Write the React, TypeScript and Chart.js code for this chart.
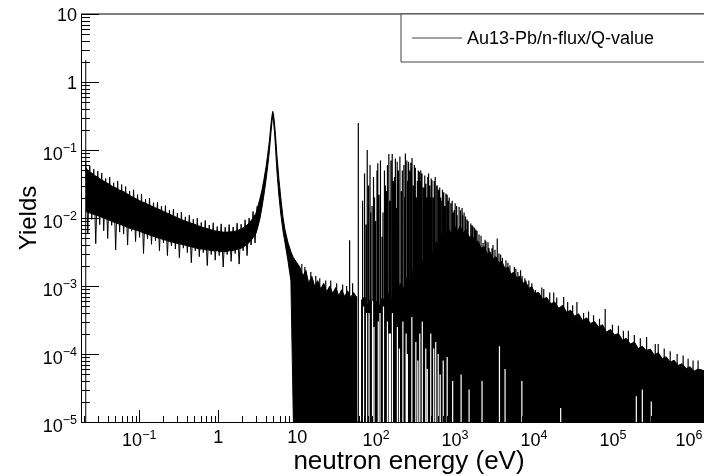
import React, { useEffect, useRef } from 'react';
import { Chart, registerables } from 'chart.js';

Chart.register(...registerables);

const SERIES_LABEL = 'Au13-Pb/n-flux/Q-value';
const X_TITLE = 'neutron energy (eV)';
const Y_TITLE = 'Yields';

const X_MIN = 0.01829;
const X_MAX = 1.423e6;
const Y_MIN = 1e-5;
const Y_MAX = 10;

const xTickDecades = [0.01, 0.1, 1, 10, 100, 1e3, 1e4, 1e5, 1e6];
const xLabelValues = [0.1, 1, 10, 100, 1e3, 1e4, 1e5, 1e6];
const xTickLabels = ['10^{\u22121}', '1', '10', '10^{2}', '10^{3}', '10^{4}', '10^{5}', '10^{6}'];
const yTickDecades = [1e-5, 1e-4, 1e-3, 1e-2, 1e-1, 1, 10];
const yTickLabels = ['10^{\u22125}', '10^{\u22124}', '10^{\u22123}', '10^{\u22122}', '10^{\u22121}', '1', '10'];

// thermal band + 4.9 eV resonance: dense core (energy, upper edge, lower edge)
const bandE = [
  0.0210, 0.0230, 0.0250, 0.0273, 0.0298, 0.0325, 0.0355, 0.0387, 0.0422, 0.0461,
  0.0503, 0.0548, 0.0598, 0.0653, 0.0712, 0.0777, 0.0848, 0.0925, 0.101, 0.110,
  0.120, 0.131, 0.143, 0.156, 0.170, 0.186, 0.203, 0.221, 0.241, 0.263,
  0.287, 0.313, 0.342, 0.373, 0.407, 0.444, 0.484, 0.528, 0.576, 0.628,
  0.686, 0.748, 0.816, 0.890, 0.971, 1.06, 1.16, 1.26, 1.38, 1.50,
  1.64, 1.79, 1.95, 2.13, 2.32, 2.53, 2.76, 3.02, 3.19, 3.39,
  3.59, 3.80, 4.03, 4.27, 4.46, 4.66, 4.80, 4.90, 5.01, 5.16,
  5.31, 5.55, 5.88, 6.23, 6.60, 7.00, 7.63, 8.33, 8.96, 9.63,
];
const bandHigh = [
  0.055, 0.048, 0.046, 0.042, 0.040, 0.037, 0.035, 0.033, 0.031, 0.029,
  0.028, 0.026, 0.025, 0.024, 0.0225, 0.021, 0.020, 0.019, 0.018, 0.0172,
  0.0165, 0.0157, 0.0150, 0.0143, 0.0137, 0.0131, 0.0125, 0.0119, 0.0114, 0.0109,
  0.0104, 0.0099, 0.0095, 0.0091, 0.0088, 0.0085, 0.0082, 0.0079, 0.0076, 0.0073,
  0.0071, 0.0069, 0.0067, 0.0065, 0.0064, 0.0063, 0.0062, 0.0062, 0.0062, 0.0063,
  0.0064, 0.0066, 0.0069, 0.0073, 0.0079, 0.0087, 0.0100, 0.0118, 0.0150, 0.0195,
  0.0260, 0.0370, 0.056, 0.092, 0.140, 0.24, 0.32, 0.37, 0.34, 0.25,
  0.17, 0.082, 0.037, 0.019, 0.0105, 0.0068, 0.0044, 0.0032, 0.0026, 0.0023,
];
const bandLow = [
  0.0125, 0.0120, 0.0116, 0.0112, 0.0108, 0.0104, 0.0100, 0.0096, 0.0092, 0.0088,
  0.0085, 0.0082, 0.0079, 0.0076, 0.0073, 0.0070, 0.0068, 0.0066, 0.0064, 0.0061,
  0.0059, 0.0057, 0.0055, 0.0053, 0.0051, 0.0050, 0.0048, 0.0047, 0.0045, 0.0044,
  0.0043, 0.0042, 0.0041, 0.0040, 0.0039, 0.0038, 0.0037, 0.0036, 0.0035, 0.0035,
  0.0034, 0.0034, 0.0033, 0.0033, 0.0033, 0.0032, 0.0032, 0.0032, 0.0033, 0.0033,
  0.0034, 0.0035, 0.0036, 0.0038, 0.0041, 0.0045, 0.0051, 0.0060, 0.0075, 0.0100,
  0.0145, 0.0220, 0.036, 0.062, 0.100, 0.18, 0.26, 0.31, 0.27, 0.19,
  0.112, 0.048, 0.021, 0.011, 0.0066, 0.0044, 0.0024, 0.0012, 0.00001, 0.00001,
];

// bin-to-bin fluctuations of the thermal band (energy, alternating max / min bin content)
const noiseE = [
  0.02103, 0.02229, 0.02362, 0.02503, 0.02653, 0.02812, 0.02980, 0.03158, 0.03347, 0.03547,
  0.03759, 0.03984, 0.04222, 0.04475, 0.04742, 0.05026, 0.05326, 0.05645, 0.05982, 0.06340,
  0.06719, 0.07121, 0.07547, 0.07998, 0.08476, 0.08983, 0.09520, 0.1009, 0.1069, 0.1133,
  0.1201, 0.1273, 0.1349, 0.1429, 0.1515, 0.1605, 0.1701, 0.1803, 0.1911, 0.2025,
  0.2146, 0.2275, 0.2411, 0.2555, 0.2708, 0.2869, 0.3041, 0.3223, 0.3416, 0.3620,
  0.3836, 0.4066, 0.4309, 0.4567, 0.4840, 0.5129, 0.5436, 0.5761, 0.6105, 0.6470,
  0.6857, 0.7267, 0.7702, 0.8162, 0.8650, 0.9168, 0.9716, 1.030, 1.091, 1.157,
  1.226, 1.299, 1.377, 1.459, 1.546, 1.639, 1.737, 1.841, 1.951, 2.067,
  2.191, 2.322, 2.461, 2.608, 2.764, 2.929, 3.104,
];
const noiseY = [
  0.068, 0.0060, 0.058, 0.0095, 0.052, 0.0042, 0.049, 0.0080, 0.046, 0.0065,
  0.038, 0.0050, 0.040, 0.0078, 0.033, 0.0034, 0.035, 0.0062, 0.031, 0.0058,
  0.029, 0.0040, 0.025, 0.0064, 0.026, 0.0045, 0.022, 0.0052, 0.0225, 0.0030,
  0.019, 0.0049, 0.0195, 0.0041, 0.0168, 0.0046, 0.0172, 0.0033, 0.0150, 0.0043,
  0.0152, 0.0028, 0.0130, 0.0039, 0.0135, 0.0035, 0.0118, 0.0026, 0.0122, 0.0036,
  0.0104, 0.0031, 0.0110, 0.0022, 0.0096, 0.0033, 0.0099, 0.0027, 0.0086, 0.0031,
  0.0092, 0.0020, 0.0079, 0.0029, 0.0085, 0.0024, 0.0075, 0.0028, 0.0082, 0.0019,
  0.0073, 0.0029, 0.0080, 0.0023, 0.0074, 0.0030, 0.0084, 0.0021, 0.0081, 0.0033,
  0.0094, 0.0028, 0.0100, 0.0040, 0.0125, 0.0043, 0.0150,
];

// epithermal / fast region, filled down to the axis (energy, upper edge)
const tailE = [
  8.96, 9.63, 10.8, 11.8, 12.9, 14.0, 15.3, 16.7, 18.2, 19.9,
  21.7, 23.7, 25.9, 28.2, 30.8, 33.6, 36.6, 40.0, 43.6, 47.6,
  51.9, 55.8, 56.6, 64.5, 65.5, 71.4, 77.9, 85.0, 92.7, 101,
  110, 120, 131, 143, 156, 171, 186, 203, 222, 242,
  264, 288, 314, 342, 374, 408, 445, 485, 529, 578,
  630, 688, 750, 818, 893, 974, 1063, 1159, 1265, 1380,
  1506, 1643, 1792, 1956, 2133, 2328, 2540, 2771, 3023, 3298,
  3598, 3926, 4283, 4673, 5097, 5562, 6067, 6620, 7222, 7880,
  8597, 9380, 10230, 11490, 12910, 14500, 16290, 18290, 20540, 23080,
  25920, 29110, 32700, 36720, 41250, 46330, 52040, 58440, 65620, 73710,
  82780, 92990, 104400, 117300, 131800, 147900, 166200, 186600, 209600, 235500,
  264400, 297100, 333600, 374600, 420900, 472600, 530900, 596200, 669500, 752100,
  844600, 948900, 1066000, 1197000, 1423000,
];
const tailHigh = [
  0.0026, 0.0023, 0.0019, 0.0014, 0.0017, 0.0011, 0.0014, 0.00098, 0.0012, 0.00090,
  0.0011, 0.00082, 0.0010, 0.00078, 0.00095, 0.00072, 0.00088, 0.00070, 0.00085, 0.00068,
  0.00080, 0.00070, 0.00001, 0.00001, 0.00062, 0.00070, 0.00052, 0.00065, 0.00048, 0.00060,
  0.00050, 0.00068, 0.00055, 0.00078, 0.00062, 0.00090, 0.00075, 0.0011, 0.00090, 0.0013,
  0.0011, 0.0017, 0.0014, 0.0022, 0.0018, 0.0028, 0.0023, 0.0035, 0.0029, 0.0045,
  0.0037, 0.0060, 0.0048, 0.0072, 0.0058, 0.0080, 0.0062, 0.0076, 0.0060, 0.0068,
  0.0052, 0.0056, 0.0043, 0.0046, 0.0036, 0.0038, 0.0030, 0.0032, 0.0025, 0.0027,
  0.0022, 0.0023, 0.0018, 0.0019, 0.0015, 0.0016, 0.0013, 0.0014, 0.0011, 0.00115,
  0.00092, 0.00098, 0.00078, 0.00080, 0.00064, 0.00068, 0.00055, 0.00058, 0.00047, 0.00052,
  0.00041, 0.00044, 0.00036, 0.00039, 0.00031, 0.00034, 0.00028, 0.00030, 0.00025, 0.00027,
  0.00021, 0.00023, 0.00019, 0.00020, 0.00016, 0.00017, 0.00014, 0.00015, 0.00012, 0.00013,
  0.000112, 0.000118, 0.000097, 0.000104, 0.000086, 0.000091, 0.000076, 0.000081, 0.000068, 0.000072,
  0.000061, 0.000065, 0.000056, 0.000060, 0.000057,
];

// resonance spikes (energy, peak height)
const spikeE = [
  46.2, 59.5, 77.2, 85.0, 95.5, 105, 119, 131, 145, 160,
  171, 185, 215, 235, 258, 272, 285, 314, 333, 353,
  381, 408, 428, 462, 485, 510, 561, 595, 618, 658,
  693, 766, 818, 885, 946, 1003, 1063, 1126, 1229, 1302,
  1421, 1582, 1691, 1829, 2013, 2262, 2467, 2691, 3023, 3425,
  3780, 4160, 4673, 5292, 5893, 6755, 7076, 7880, 8597, 10440,
  13290, 17770, 23760, 34950, 42460, 56760, 79700, 117300, 156800, 266800,
  374600, 530900, 774300, 1035000,
  67.4, 71.4, 74.6, 80.2, 83.8, 88.8, 92.7, 98.3, 102.6, 108.8,
  113.6, 122.2, 127.6, 135.3, 139.2, 149.7, 154.1, 165.8, 175.6, 180.8,
  191.6, 200.1, 209.0, 224.8, 228.1, 245.2, 252.5, 267.6, 275.4, 296.2,
  305.0, 323.2, 342.4, 362.8, 368.1, 396.0, 413.6, 438.3, 451.2, 478.2,
  499.5, 529.4, 545.0, 586.1, 639.2, 667.7, 718.1, 739.3, 794.9, 842.4,
  919.2, 974.1, 1047, 1176, 1247, 1360, 1463, 1643, 1767, 1899,
  2133, 2396, 2614, 2937, 3203, 3598, 3984, 4410, 4951, 5643,
  6247, 7654, 9380,
  11.46, 12.51, 14.88, 17.21, 19.33, 23.01, 26.61, 31.67, 37.70, 42.34,
  50.40, 12540, 15820, 19385, 26680, 30850, 49090, 67540, 98540, 135600,
  186600, 222200, 343400, 446000, 650600, 895300, 1197000,
];
const spikeY = [
  0.0047, 0.25, 0.10, 0.012, 0.020, 0.064, 0.0053, 0.030, 0.087, 0.087,
  0.040, 0.067, 0.050, 0.089, 0.067, 0.030, 0.076, 0.055, 0.035, 0.048,
  0.045, 0.028, 0.032, 0.045, 0.020, 0.036, 0.040, 0.030, 0.026, 0.020,
  0.026, 0.023, 0.018, 0.0165, 0.012, 0.0165, 0.011, 0.0145, 0.014, 0.012,
  0.0095, 0.0083, 0.0075, 0.0067, 0.0057, 0.0043, 0.0045, 0.0036, 0.0040, 0.0050,
  0.0029, 0.0019, 0.0022, 0.0015, 0.0018, 0.0017, 0.0014, 0.0012, 0.0012, 0.00087,
  0.0009, 0.0008, 0.00069, 0.00058, 0.0004, 0.00037, 0.00046, 0.00026, 0.00022, 0.000178,
  0.00014, 0.00011, 0.000095, 0.00008,
  0.018, 0.045, 0.008, 0.030, 0.060, 0.015, 0.040, 0.009, 0.050, 0.022,
  0.070, 0.012, 0.050, 0.025, 0.060, 0.018, 0.070, 0.035, 0.075, 0.014,
  0.050, 0.080, 0.025, 0.060, 0.020, 0.070, 0.035, 0.050, 0.065, 0.030,
  0.060, 0.020, 0.050, 0.035, 0.050, 0.028, 0.042, 0.020, 0.040, 0.030,
  0.038, 0.020, 0.035, 0.030, 0.028, 0.018, 0.024, 0.015, 0.022, 0.020,
  0.018, 0.013, 0.015, 0.013, 0.011, 0.0105, 0.009, 0.0078, 0.0072, 0.0065,
  0.0055, 0.0048, 0.0044, 0.0036, 0.0034, 0.0030, 0.0026, 0.0024, 0.0020, 0.0019,
  0.0016, 0.0013, 0.0011,
  0.0021, 0.0019, 0.0016, 0.0014, 0.0013, 0.0012, 0.0012, 0.0011, 0.00105, 0.0010,
  0.0011, 0.00095, 0.0008, 0.00068, 0.00058, 0.00052, 0.00042, 0.00033, 0.00027, 0.00022,
  0.00019, 0.00017, 0.00014, 0.00012, 0.0001, 0.000085, 0.00008,
];

// empty bins (white gaps) inside the dense region (energy, height of gap)
const gapE = [
  81.4, 94.1, 112, 139.2, 151.9, 197.2, 248.9, 337.6, 444.7, 537.1,
  648.6, 794.9, 932.6, 1193, 1506, 2196, 3651, 4300, 7016, 21770,
  197800, 235500, 305800,
  69.36, 75.68, 90.08, 106.6, 124.0, 146.7, 161.0, 186.1, 218.4, 240.3,
  283.6, 318.6, 357.6, 384.7, 425.9, 492.3, 569.2, 612.0, 707.9,
];
const gapY = [
  0.0004, 0.00025, 0.0004, 0.0003, 0.0002, 0.00012, 0.0001, 0.00008, 0.00006, 0.00012,
  0.00005, 0.00009, 0.00004, 0.00005, 0.00003, 0.00004, 0.00013, 0.00006, 0.00004, 0.000016,
  0.000024, 0.00003, 0.00002,
  0.0005, 0.0004, 0.0006, 0.0003, 0.0005, 0.0002, 0.0004, 0.00025, 0.0003, 0.0002,
  0.00035, 0.00015, 0.0002, 0.0003, 0.00012, 0.0002, 0.00015, 0.0001, 0.00008,
];

// left edge of the first bin
const firstEdgeE = [0.0210];
const firstEdgeY = [2.1];

const FONT = "'Liberation Sans', Arial, Helvetica, sans-serif";

function segments(es: number[], ys: number[]) {
  const out: any[] = [];
  es.forEach((e, i) => {
    out.push({ x: e, y: Y_MIN });
    out.push({ x: e, y: ys[i] });
    out.push({ x: e, y: null });
  });
  return out;
}

function decadeTicks(decades: number[], lo: number, hi: number) {
  const t: any[] = [];
  decades.forEach((d) => {
    for (let m = 1; m <= 9; m++) {
      const v = d * m;
      if (v >= lo * 0.9999 && v <= hi * 1.0001) t.push({ value: v, major: m === 1 });
    }
  });
  return t;
}

function drawPowLabel(ctx: CanvasRenderingContext2D, label: string, x: number, baseY: number, align: string, size: number, expSize: number, raise: number) {
  const m = label.match(/^(\d+)\^\{(.+)\}$/);
  const base = m ? m[1] : label;
  const exp = m ? m[2] : '';
  ctx.font = `${size}px ${FONT}`;
  const wb = ctx.measureText(base).width;
  ctx.font = `${expSize}px ${FONT}`;
  const we = exp ? ctx.measureText(exp).width : 0;
  const total = wb + we;
  const left = align === 'center' ? x - total / 2 : x - total;
  ctx.textAlign = 'left';
  ctx.textBaseline = 'alphabetic';
  ctx.font = `${size}px ${FONT}`;
  ctx.fillText(base, left, baseY + (exp ? 3 : 0));
  if (exp) {
    ctx.font = `${expSize}px ${FONT}`;
    ctx.fillText(exp, left + wb, baseY + 3 - raise);
  }
}

const rootStyle = {
  id: 'rootStyle',
  afterDatasetsDraw(chart: any) {
    const { ctx, chartArea: a, scales } = chart;
    const xs = scales.x;
    const ys = scales.y;
    ctx.save();
    ctx.strokeStyle = '#000';
    ctx.fillStyle = '#000';
    ctx.lineWidth = 1;
    ctx.beginPath();
    ys.ticks.forEach((t: any) => {
      const y = Math.round(ys.getPixelForValue(t.value)) + 0.5;
      const len = t.major ? 18 : 9;
      ctx.moveTo(a.left, y);
      ctx.lineTo(a.left + len, y);
    });
    xs.ticks.forEach((t: any) => {
      const x = Math.round(xs.getPixelForValue(t.value)) + 0.5;
      const len = t.major ? 12 : 6;
      ctx.moveTo(x, a.bottom);
      ctx.lineTo(x, a.bottom - len);
    });
    ctx.stroke();
    ctx.beginPath();
    ctx.moveTo(a.left + 0.5, a.top);
    ctx.lineTo(a.left + 0.5, a.bottom + 0.5);
    ctx.lineTo(a.right + 2, a.bottom + 0.5);
    ctx.moveTo(a.left, a.top);
    ctx.lineTo(a.right + 2, a.top);
    ctx.stroke();
    yTickDecades.forEach((v, i) => {
      const y = ys.getPixelForValue(v);
      drawPowLabel(ctx, yTickLabels[i], 77, y + 6.5, 'right', 18, 12.5, 7.5);
    });
    xLabelValues.forEach((v, i) => {
      const x = Math.min(xs.getPixelForValue(v), 689);
      drawPowLabel(ctx, xTickLabels[i], x, 443, 'center', 18, 12.5, 7.5);
    });
    ctx.textAlign = 'center';
    ctx.textBaseline = 'alphabetic';
    ctx.font = `26px ${FONT}`;
    ctx.fillText(X_TITLE, 409, 469);
    ctx.font = `24px ${FONT}`;
    ctx.save();
    ctx.translate(36, 218);
    ctx.rotate(-Math.PI / 2);
    ctx.fillText(Y_TITLE, 0, 0);
    ctx.restore();
    const label = chart.data.datasets[0].label;
    ctx.fillStyle = '#fff';
    ctx.fillRect(401, 14, a.right - 401 + 2, 48);
    ctx.strokeStyle = '#444';
    ctx.beginPath();
    ctx.moveTo(401, 14);
    ctx.lineTo(401, 62);
    ctx.lineTo(a.right + 2, 62);
    ctx.moveTo(401, 14);
    ctx.lineTo(a.right + 2, 14);
    ctx.stroke();
    ctx.beginPath();
    ctx.moveTo(412, 38);
    ctx.lineTo(462, 38);
    ctx.stroke();
    ctx.fillStyle = '#000';
    ctx.font = `18px ${FONT}`;
    ctx.textAlign = 'left';
    ctx.fillText(label, 467, 44);
    ctx.restore();
  },
};

export default function App() {
  const ref = useRef<HTMLCanvasElement | null>(null);
  useEffect(() => {
    if (!ref.current) return;
    const chart = new Chart(ref.current, {
      type: 'line',
      data: {
        datasets: [
          {
            label: SERIES_LABEL,
            data: bandE.map((e, i) => ({ x: e, y: bandHigh[i] })),
            borderColor: '#000',
            backgroundColor: '#000',
            borderWidth: 1,
            fill: '+1',
            order: 10,
          },
          {
            label: 'band-low',
            data: bandE.map((e, i) => ({ x: e, y: bandLow[i] })),
            borderColor: '#000',
            borderWidth: 1,
            fill: false,
            order: 10,
          },
          {
            label: 'tail',
            data: tailE.map((e, i) => ({ x: e, y: tailHigh[i] })),
            borderColor: '#000',
            backgroundColor: '#000',
            borderWidth: 1,
            fill: 'start',
            order: 10,
          },
          {
            label: 'noise',
            data: noiseE.map((e, i) => ({ x: e, y: noiseY[i] })),
            borderColor: '#000',
            borderWidth: 1,
            fill: false,
            order: 8,
          },
          {
            label: 'spikes',
            data: segments(spikeE, spikeY),
            borderColor: '#000',
            borderWidth: 1.2,
            fill: false,
            spanGaps: false,
            order: 5,
          },
          {
            label: 'gaps',
            data: segments(gapE, gapY),
            borderColor: '#fff',
            borderWidth: 1.2,
            fill: false,
            spanGaps: false,
            order: 3,
          },
          {
            label: 'edge',
            data: segments(firstEdgeE, firstEdgeY),
            borderColor: '#000',
            borderWidth: 1,
            fill: false,
            spanGaps: false,
            order: 2,
          },
        ],
      },
      options: {
        responsive: false,
        animation: false,
        devicePixelRatio: 1,
        layout: { padding: { top: 14, left: 0, right: 0, bottom: 0 } },
        elements: { point: { radius: 0 }, line: { tension: 0 } },
        plugins: { legend: { display: false }, tooltip: { enabled: false } },
        scales: {
          x: {
            type: 'logarithmic',
            min: X_MIN,
            max: X_MAX,
            grid: { display: false },
            border: { display: false },
            ticks: { display: false },
            afterBuildTicks: (s: any) => { s.ticks = decadeTicks(xTickDecades, X_MIN, X_MAX); },
            afterFit: (s: any) => { s.height = 54; },
          },
          y: {
            type: 'logarithmic',
            min: Y_MIN,
            max: Y_MAX,
            grid: { display: false },
            border: { display: false },
            ticks: { display: false },
            afterBuildTicks: (s: any) => { s.ticks = decadeTicks(yTickDecades, Y_MIN, Y_MAX); },
            afterFit: (s: any) => { s.width = 81; },
          },
        },
      } as any,
      plugins: [rootStyle],
    });
    return () => chart.destroy();
  }, []);
  return (
    <div style={{ position: 'fixed', left: 0, top: 0, width: 704, height: 476, background: '#fff' }}>
      <canvas ref={ref} width={704} height={476} style={{ width: 704, height: 476, display: 'block' }} />
    </div>
  );
}
